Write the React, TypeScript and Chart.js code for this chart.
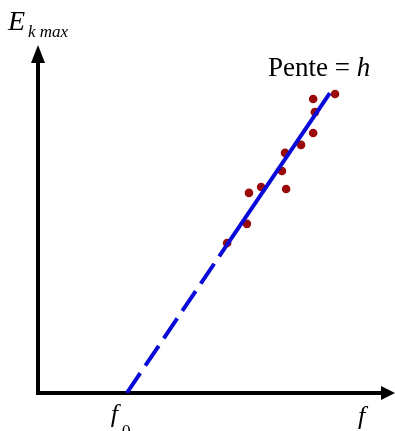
import React, { useEffect, useRef } from "react";
import { Chart, registerables } from "chart.js";

Chart.register(...registerables);

// Measured points (arbitrary units)
const pointsX = [8.56, 7.93, 7.98, 7.93, 7.58, 7.12, 7.03, 7.15, 6.43, 6.08, 6.02, 5.45];
const pointsY = [8.59, 8.45, 8.07, 7.47, 7.13, 6.9, 6.38, 5.86, 5.92, 5.75, 4.86, 4.31];

// Fitted line: f0 (extrapolated, dashed) -> first data -> last data
const fitX = [2.56, 5.42, 8.41];
const fitY = [0, 4.22, 8.62];

const xMin = 0;
const xMax = 10;
const yMin = 0;
const yMax = 10;

const SERIF = "'Liberation Serif', 'Times New Roman', serif";

const axesPlugin = {
  id: "physAxes",
  beforeDatasetsDraw(chart: any) {
    const { ctx, chartArea } = chart;
    const x0 = chart.scales.x.getPixelForValue(xMin);
    const y0 = chart.scales.y.getPixelForValue(yMin);
    const top = chartArea.top;
    const right = chartArea.right + 10;
    ctx.save();
    ctx.strokeStyle = "#000";
    ctx.fillStyle = "#000";
    ctx.lineWidth = 4;
    ctx.lineCap = "butt";
    // y axis
    ctx.beginPath();
    ctx.moveTo(x0, y0 + 2);
    ctx.lineTo(x0, top + 14);
    ctx.stroke();
    // x axis
    ctx.beginPath();
    ctx.moveTo(x0 - 2, y0);
    ctx.lineTo(right - 12, y0);
    ctx.stroke();
    // y arrow head
    ctx.beginPath();
    ctx.moveTo(x0, top);
    ctx.lineTo(x0 - 7, top + 18);
    ctx.lineTo(x0 + 7, top + 18);
    ctx.closePath();
    ctx.fill();
    // x arrow head
    ctx.beginPath();
    ctx.moveTo(right, y0);
    ctx.lineTo(right - 14, y0 - 7);
    ctx.lineTo(right - 14, y0 + 7);
    ctx.closePath();
    ctx.fill();
    ctx.restore();
  },
  afterDraw(chart: any) {
    const { ctx, chartArea } = chart;
    const x0 = chart.scales.x.getPixelForValue(xMin);
    const f0px = chart.scales.x.getPixelForValue(fitX[0]);
    ctx.save();
    ctx.fillStyle = "#000";
    ctx.textBaseline = "alphabetic";
    ctx.textAlign = "left";
    // y-axis label E_k max
    ctx.font = `italic 28px ${SERIF}`;
    ctx.fillText("E", x0 - 30, chartArea.top - 15);
    ctx.font = `italic 17px ${SERIF}`;
    ctx.fillText("k max", x0 - 10, chartArea.top - 8);
    // slope label
    ctx.font = `27px ${SERIF}`;
    const t = "Pente = ";
    ctx.fillText(t, 268, chartArea.top + 31);
    const w = ctx.measureText(t).width;
    ctx.font = `italic 27px ${SERIF}`;
    ctx.fillText("h", 268 + w, chartArea.top + 31);
    // f0 label
    ctx.font = `italic 26px ${SERIF}`;
    ctx.fillText("f", f0px - 16, chartArea.bottom + 29);
    ctx.font = `18px ${SERIF}`;
    ctx.fillText("0", f0px - 5, chartArea.bottom + 45);
    // f label
    ctx.font = `italic 26px ${SERIF}`;
    ctx.fillText("f", chartArea.right - 27, chartArea.bottom + 31);
    ctx.restore();
  },
};

export default function App() {
  const ref = useRef<HTMLCanvasElement | null>(null);
  useEffect(() => {
    if (!ref.current) return;
    const chart = new Chart(ref.current, {
      type: "scatter",
      data: {
        datasets: [
          {
            type: "line",
            label: "fit",
            data: fitX.map((x, i) => ({ x, y: fitY[i] })),
            borderColor: "#0a0ad8",
            borderWidth: 4,
            pointRadius: 0,
            showLine: true,
            fill: false,
            order: 0,
            segment: {
              borderDash: (c: any) => (c.p0DataIndex === 0 ? [24, 9] : undefined),
            },
          } as any,
          {
            label: "data",
            data: pointsX.map((x, i) => ({ x, y: pointsY[i] })),
            backgroundColor: "#990a0a",
            borderColor: "#990a0a",
            borderWidth: 0,
            pointRadius: 4.3,
            order: 1,
          },
        ],
      },
      options: {
        responsive: false,
        animation: false,
        layout: { padding: { left: 38, right: 10, top: 45, bottom: 38 } },
        plugins: { legend: { display: false }, tooltip: { enabled: false }, title: { display: false } },
        scales: {
          x: { type: "linear", min: xMin, max: xMax, display: false },
          y: { type: "linear", min: yMin, max: yMax, display: false },
        },
      },
      plugins: [axesPlugin],
    });
    return () => chart.destroy();
  }, []);
  return (
    <div style={{ position: "absolute", left: 0, top: 0, width: 395, height: 431, background: "#fff" }}>
      <canvas ref={ref} width={395} height={431} style={{ display: "block" }} />
    </div>
  );
}
